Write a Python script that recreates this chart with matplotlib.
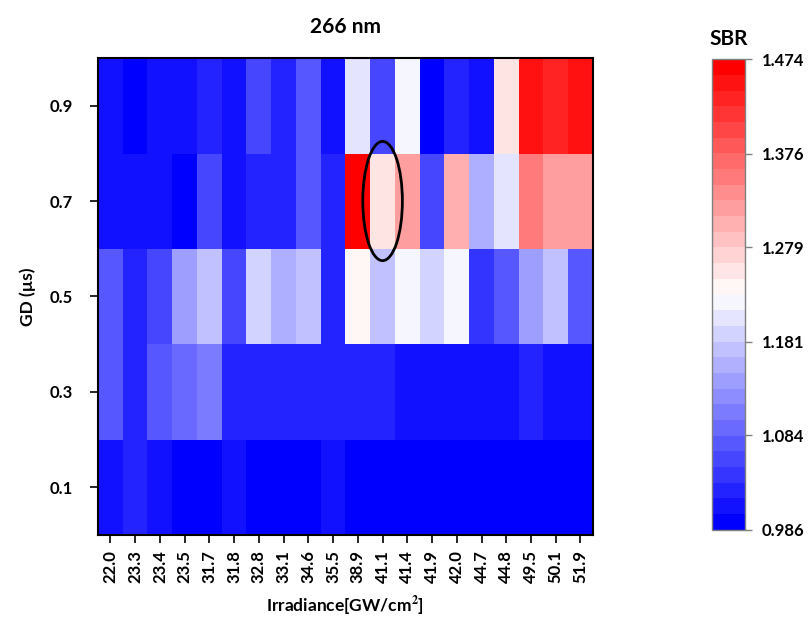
import numpy as np
import matplotlib
matplotlib.use("Agg")
import matplotlib.pyplot as plt
from matplotlib.patches import Ellipse
from matplotlib.colors import Normalize

plt.rcParams['font.family'] = ['Lato', 'DejaVu Sans']
plt.rcParams['mathtext.fontset'] = 'stix'

irradiance = ["22.0", "23.3", "23.4", "23.5", "31.7", "31.8", "32.8", "33.1", "34.6", "35.5",
              "38.9", "41.1", "41.4", "41.9", "42.0", "44.7", "44.8", "49.5", "50.1", "51.9"]
gd = [0.1, 0.3, 0.5, 0.7, 0.9]

sbr_01 = [1.015, 1.034, 1.005, 0.986, 0.986, 1.005, 0.986, 0.986, 0.986, 1.005,
          0.986, 0.986, 0.986, 0.986, 0.986, 0.986, 0.986, 0.986, 0.986, 0.986]
sbr_03 = [1.072, 1.034, 1.082, 1.091, 1.106, 1.029, 1.024, 1.024, 1.024, 1.034,
          1.034, 1.034, 1.015, 1.010, 1.010, 1.010, 1.010, 1.024, 1.005, 1.005]
sbr_05 = [1.077, 1.024, 1.053, 1.134, 1.168, 1.067, 1.187, 1.149, 1.173, 1.034,
          1.240, 1.168, 1.220, 1.187, 1.220, 1.043, 1.082, 1.144, 1.168, 1.082]
sbr_07 = [1.005, 1.005, 1.015, 0.996, 1.053, 1.005, 1.034, 1.034, 1.072, 1.024,
          1.474, 1.259, 1.321, 1.053, 1.311, 1.154, 1.201, 1.359, 1.321, 1.321]
sbr_09 = [1.015, 0.986, 1.015, 1.015, 1.034, 1.005, 1.063, 1.034, 1.072, 1.005,
          1.201, 1.053, 1.220, 0.986, 1.024, 1.015, 1.259, 1.455, 1.436, 1.455]

cbar_ticks = [0.986, 1.084, 1.181, 1.279, 1.376, 1.474]

data = np.array([sbr_01, sbr_03, sbr_05, sbr_07, sbr_09])
vmin, vmax = cbar_ticks[0], cbar_ticks[-1]

fig = plt.figure(figsize=(8.11, 6.30), dpi=100)
ax = fig.add_axes([0.121, 0.151, 0.610, 0.757])
cmap = plt.get_cmap('bwr', 30)
norm = Normalize(vmin=vmin, vmax=vmax)
n = len(irradiance)
im = ax.imshow(data, cmap=cmap, norm=norm, origin='lower', aspect='auto',
               extent=(-0.5, n - 0.5, 0.0, 1.0), interpolation='nearest')

ax.set_xticks(np.arange(n))
ax.set_xticklabels(irradiance, rotation=90, fontsize=12, fontweight='bold')
ax.set_yticks(gd)
ax.set_yticklabels([f"{g:.1f}" for g in gd], fontsize=12, fontweight='bold')
ax.tick_params(direction='out', length=6, width=1.2, pad=12, axis='y')
ax.tick_params(direction='out', length=6, width=1.2, pad=5, axis='x')
for s in ax.spines.values():
    s.set_linewidth(1.5)

ax.set_title("266 nm", fontsize=15, fontweight='bold', pad=18)
ax.set_ylabel("GD (µs)", fontsize=12.5, fontweight='bold', labelpad=10)
ax.set_xlabel(r"Irradiance[GW/cm$^{\mathbf{2}}$]", fontsize=12.5, fontweight='bold', labelpad=8)

ell = Ellipse((11, 0.7), width=1.6, height=0.25, fill=False, edgecolor='black', linewidth=2)
ax.add_patch(ell)

cax = fig.add_axes([0.878, 0.159, 0.041, 0.747])
cb = fig.colorbar(im, cax=cax, ticks=cbar_ticks)
cb.ax.set_yticklabels([f"{t:.3f}" for t in cbar_ticks], fontsize=12, fontweight='bold')
cb.ax.tick_params(length=5, width=1, color='gray', pad=7)
cb.outline.set_edgecolor('gray')
cb.outline.set_linewidth(1)
cb.ax.set_title("SBR", fontsize=15, fontweight='bold', pad=10)

fig.savefig("out.png", dpi=100)
